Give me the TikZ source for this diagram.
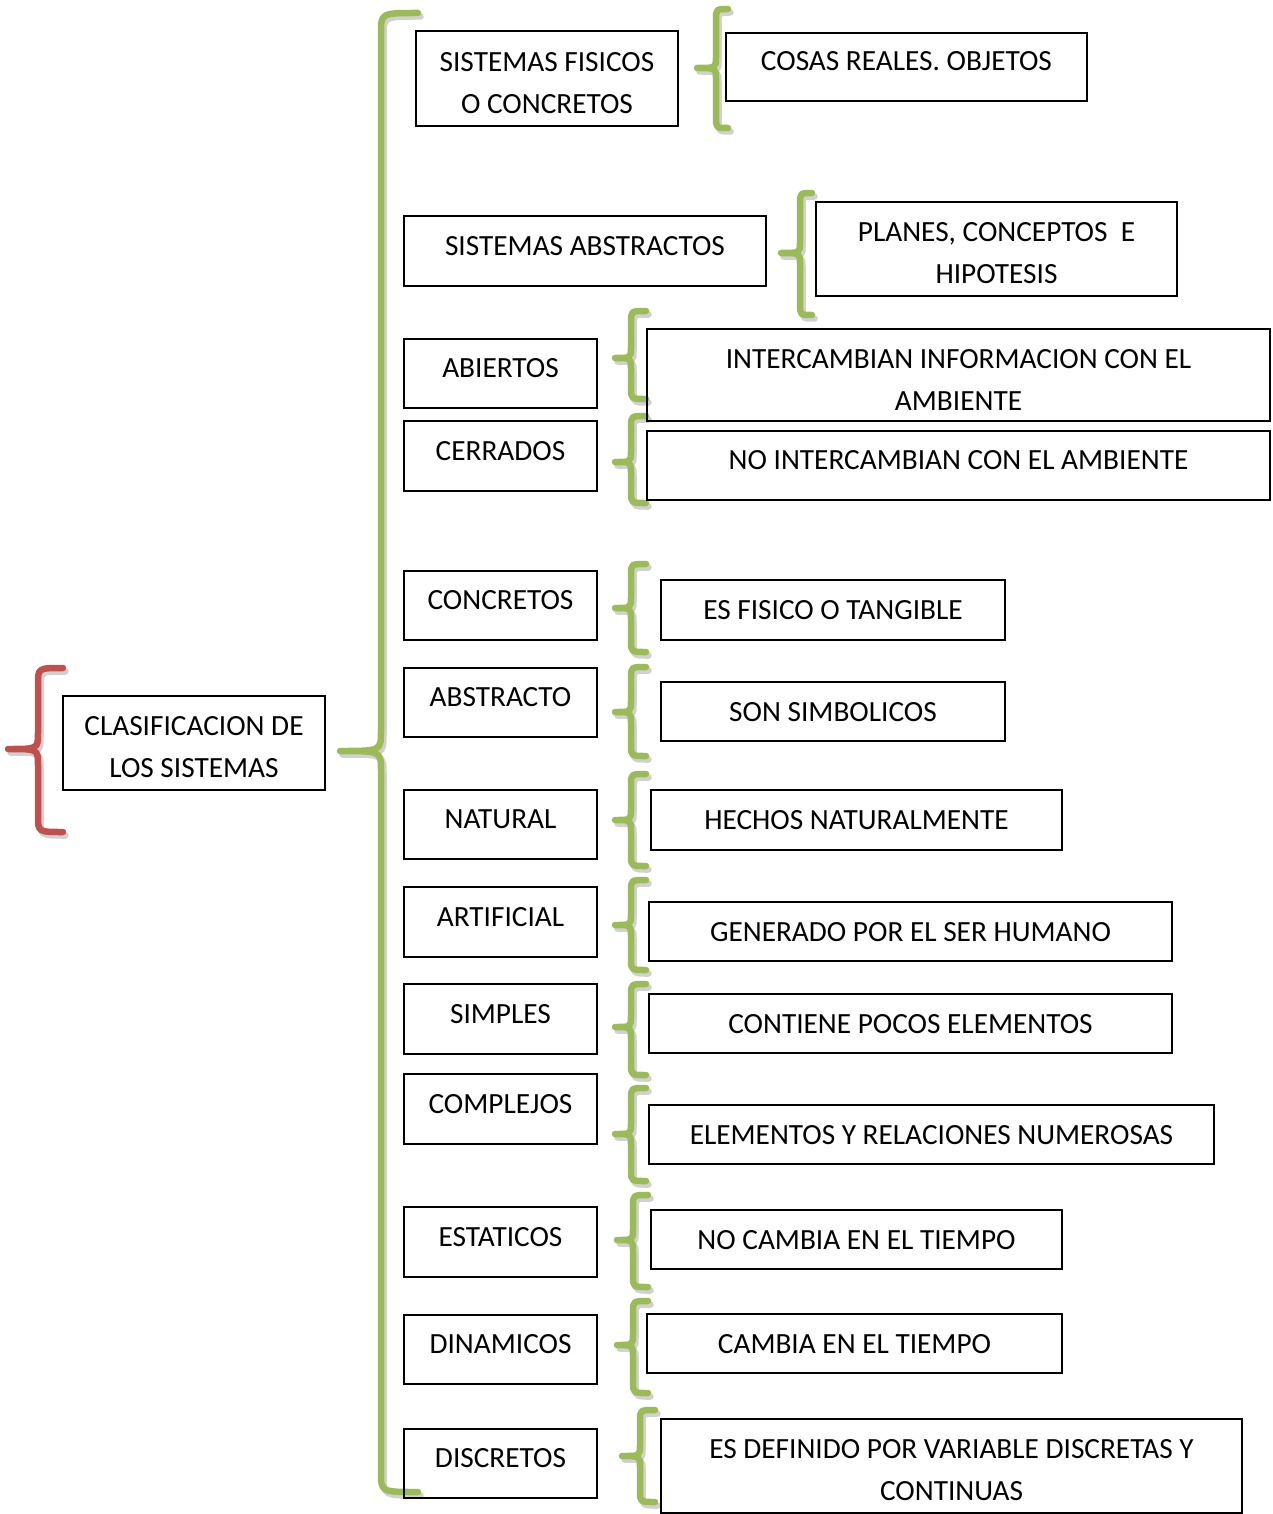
\documentclass[tikz,border=0pt]{standalone}
\usepackage{fontspec}
\setmainfont{Carlito}
\definecolor{bgreen}{RGB}{155,187,89}
\definecolor{bred}{RGB}{192,80,77}
\newcommand{\tstrutx}{\rule{0pt}{28pt}}
\newcommand{\brc}[8]{% #1 style, #2 tip x, #3 vertical x, #4 hook x, #5 top, #6 mid, #7 bottom, #8 radius
  \draw[#1,shadowb,shift={(2.5,3.5)}] (#4,#5) .. controls (#3,#5) .. (#3,#5+#8) -- (#3,#6-#8) .. controls (#3,#6) .. (#2,#6) .. controls (#3,#6) .. (#3,#6+#8) -- (#3,#7-#8) .. controls (#3,#7) .. (#4,#7);
  \draw[#1] (#4,#5) .. controls (#3,#5) .. (#3,#5+#8) -- (#3,#6-#8) .. controls (#3,#6) .. (#2,#6) .. controls (#3,#6) .. (#3,#6+#8) -- (#3,#7-#8) .. controls (#3,#7) .. (#4,#7);
}
\newcommand{\bx}[7]{% #1 name, #2 x1, #3 y1, #4 x2, #5 y2, #6 extra style, #7 text
  \node[bx,#6,minimum width=#4-#2,minimum height=#5-#3] (#1) at ({(#2+#4)/2},{(#3+#5)/2}) {#7};
}
\begin{document}
\begin{tikzpicture}[x=1pt,y=-1pt,
  bx/.style={draw=black, line width=1.1pt, inner sep=0pt, align=center,
    font=\fontsize{29.3}{42}\selectfont},
  one/.style={text height=19pt, text depth=11pt},
  mid/.style={text height=19pt, text depth=0pt},
  two/.style={},
  gb/.style={draw=bgreen, line width=6.5pt, line cap=round, line join=round},
  rb/.style={draw=bred, line width=6.5pt, line cap=round, line join=round},
  shadowb/.style={draw=black, opacity=0.18}]
\useasboundingbox (0,0) rectangle (1273,1514);

% braces
\brc{rb}{8}{38}{63}{668}{749}{832}{16}
\brc{gb}{340}{381}{418}{13}{751}{1492}{20}
\brc{gb}{697}{716}{728}{9}{68}{128}{11}
\brc{gb}{781}{800}{812}{193}{253}{315}{11}
\brc{gb}{615}{631}{646}{311}{358}{399}{11}
\brc{gb}{615}{631}{646}{416}{462}{503}{11}
\brc{gb}{615}{631}{646}{564}{608}{652}{11}
\brc{gb}{615}{631}{646}{667}{712}{756}{11}
\brc{gb}{615}{631}{646}{774}{820}{866}{11}
\brc{gb}{615}{631}{646}{880}{925}{970}{11}
\brc{gb}{615}{631}{646}{984}{1027}{1075}{11}
\brc{gb}{615}{631}{646}{1088}{1134}{1181}{11}
\brc{gb}{617}{633}{648}{1195}{1240}{1287}{11}
\brc{gb}{617}{633}{648}{1301}{1345}{1393}{11}
\brc{gb}{622}{640}{655}{1410}{1456}{1502}{11}

% root
\bx{root}{63}{696}{325}{790}{two}{\tstrutx CLASIFICACION DE\\LOS SISTEMAS}

% left column
\bx{l1}{416}{31}{678}{126}{two}{\tstrutx SISTEMAS FISICOS\\O CONCRETOS}
\bx{l2}{404}{216}{766}{286}{one}{SISTEMAS ABSTRACTOS}
\bx{l3}{404}{339}{597}{408}{one}{ABIERTOS}
\bx{l4}{404}{421}{597}{491}{one}{CERRADOS}
\bx{l5}{404}{571}{597}{640}{one}{CONCRETOS}
\bx{l6}{404}{668}{597}{737}{one}{ABSTRACTO}
\bx{l7}{404}{790}{597}{859}{one}{NATURAL}
\bx{l8}{404}{887}{597}{957}{one}{ARTIFICIAL}
\bx{l9}{404}{984}{597}{1054}{one}{SIMPLES}
\bx{l10}{404}{1074}{597}{1144}{one}{COMPLEJOS}
\bx{l11}{404}{1207}{597}{1277}{one}{ESTATICOS}
\bx{l12}{404}{1315}{597}{1384}{one}{DINAMICOS}
\bx{l13}{404}{1429}{597}{1498}{one}{DISCRETOS}

% right column
\bx{r1}{726}{33}{1087}{101}{one}{COSAS REALES. OBJETOS}
\bx{r2}{816}{202}{1177}{296}{two}{\tstrutx PLANES, CONCEPTOS\ \ E\\HIPOTESIS}
\bx{r3}{647}{329}{1270}{421}{two}{\tstrutx INTERCAMBIAN INFORMACION CON EL\\AMBIENTE}
\bx{r4}{647}{431}{1270}{500}{one}{NO INTERCAMBIAN CON EL AMBIENTE}
\bx{r5}{661}{580}{1005}{640}{mid}{ES FISICO O TANGIBLE}
\bx{r6}{661}{682}{1005}{741}{mid}{SON SIMBOLICOS}
\bx{r7}{651}{790}{1062}{850}{mid}{HECHOS NATURALMENTE}
\bx{r8}{649}{902}{1172}{961}{mid}{GENERADO POR EL SER HUMANO}
\bx{r9}{649}{994}{1172}{1053}{mid}{CONTIENE POCOS ELEMENTOS}
\bx{r10}{649}{1105}{1214}{1164}{mid}{ELEMENTOS Y RELACIONES NUMEROSAS}
\bx{r11}{651}{1210}{1062}{1269}{mid}{NO CAMBIA EN EL TIEMPO}
\bx{r12}{647}{1314}{1062}{1373}{mid}{CAMBIA EN EL TIEMPO}
\bx{r13}{661}{1419}{1242}{1513}{two}{\tstrutx ES DEFINIDO POR VARIABLE DISCRETAS Y\\CONTINUAS}
\end{tikzpicture}
\end{document}
